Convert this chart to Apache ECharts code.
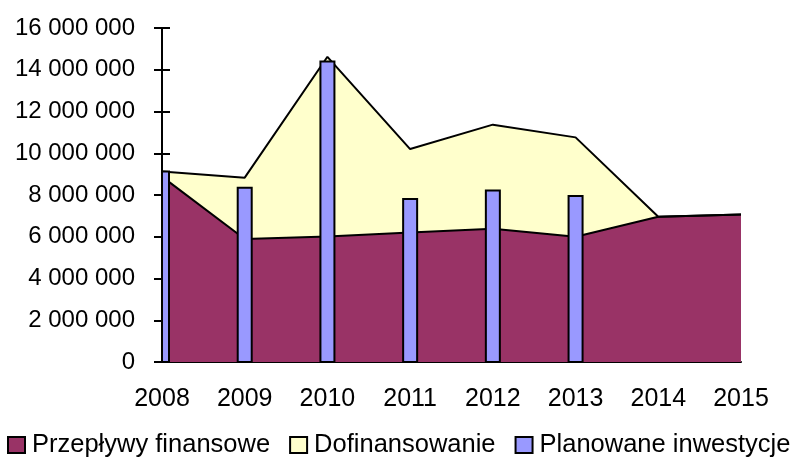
<!DOCTYPE html>
<html>
<head>
<meta charset="utf-8">
<style>
    html, body { margin: 0; padding: 0; background: #fff; }
    #chart { width: 798px; height: 457px; }
</style>
<script src="https://cdn.jsdelivr.net/npm/echarts@6/dist/echarts.min.js"></script>
</head>
<body>
<div id="chart"></div>
<script>
// dane
var years = ['2008', '2009', '2010', '2011', '2012', '2013', '2014', '2015']
var przeplywy = [8880000, 5890000, 6010000, 6200000, 6380000, 6000000, 6960000, 7070000]
var dofinansowanie = [250000, 2940000, 8610000, 4000000, 4990000, 4760000, 0, 0]
var planowane = [9120000, 8350000, 14390000, 7810000, 8220000, 7950000, null, null]
var seriesNames = ['Przepływy finansowe', 'Dofinansowanie', 'Planowane inwestycje']

var FONT = '"Liberation Sans", Arial, sans-serif'
var BAR_WIDTH = 14

function spaced(v) {
    return String(v).replace(/\B(?=(\d{3})+(?!\d))/g, ' ')
}

// słupki jako custom, żeby przyciąć pierwszy słupek do osi (bar nie przycina przy boundaryGap: false)
function renderBar(params, api) {
    var v = api.value(1)
    if (v == null || isNaN(v)) {
        return
    }
    var top = api.coord([api.value(0), v])
    var base = api.coord([api.value(0), 0])
    var cs = params.coordSys
    var shape = echarts.graphic.clipRectByRect(
        { x: top[0] - BAR_WIDTH / 2, y: top[1], width: BAR_WIDTH, height: base[1] - top[1] },
        { x: cs.x, y: cs.y, width: cs.width, height: cs.height }
    )
    if (!shape) {
        return
    }
    return {
        type: 'rect',
        shape: shape,
        style: { fill: '#9999FF', stroke: '#000', lineWidth: 2 },
    }
}

var chart = echarts.init(document.getElementById('chart'), null, { renderer: 'canvas' })

chart.setOption({
    animation: false,
    grid: {
        left: 162,
        right: 57,
        top: 28,
        bottom: 95,
        containLabel: false,
    },
    legend: {
        left: 7,
        top: 432,
        width: 800,
        padding: 0,
        icon: 'rect',
        itemWidth: 17,
        itemHeight: 16,
        itemGap: 19,
        itemStyle: {
            borderColor: '#000',
            borderWidth: 2,
        },
        textStyle: {
            fontFamily: FONT,
            fontSize: 25.5,
            color: '#000',
            padding: [0, 0, 0, 2],
        },
        data: [
            { name: seriesNames[0], itemStyle: { color: '#993366' } },
            { name: seriesNames[1], itemStyle: { color: '#FFFFCC' } },
            { name: seriesNames[2], itemStyle: { color: '#9999FF' } },
        ],
    },
    xAxis: {
        type: 'category',
        data: years,
        boundaryGap: false,
        axisLine: { lineStyle: { color: '#000', width: 2 } },
        axisTick: { show: false },
        axisLabel: {
            color: '#000',
            fontFamily: FONT,
            fontSize: 25,
            margin: 25,
        },
        splitLine: { show: false },
    },
    yAxis: [
        {
            type: 'value',
            min: 0,
            max: 16000000,
            interval: 2000000,
            axisLine: { show: true, lineStyle: { color: '#000', width: 2 } },
            axisTick: { show: true, length: 8, lineStyle: { color: '#000', width: 2 } },
            axisLabel: {
                color: '#000',
                fontFamily: FONT,
                fontSize: 24,
                margin: 27,
                formatter: spaced,
            },
            splitLine: { show: false },
            z: 5,
        },
        {
            // ta sama skala, tylko kreski do środka
            type: 'value',
            position: 'left',
            min: 0,
            max: 16000000,
            interval: 2000000,
            axisLine: { show: false },
            axisTick: { show: true, inside: true, length: 8, lineStyle: { color: '#000', width: 2 } },
            axisLabel: { show: false },
            splitLine: { show: false },
        },
    ],
    series: [
        {
            name: seriesNames[0],
            type: 'line',
            stack: 'total',
            data: przeplywy,
            symbol: 'none',
            itemStyle: { color: '#993366' },
            lineStyle: { color: '#000', width: 2 },
            areaStyle: { color: '#993366', opacity: 1 },
            z: 2,
        },
        {
            name: seriesNames[1],
            type: 'line',
            stack: 'total',
            data: dofinansowanie,
            symbol: 'none',
            itemStyle: { color: '#FFFFCC' },
            lineStyle: { color: '#000', width: 2 },
            areaStyle: { color: '#FFFFCC', opacity: 1 },
            z: 2,
        },
        {
            name: seriesNames[2],
            type: 'custom',
            renderItem: renderBar,
            encode: { x: 0, y: 1 },
            data: planowane.map(function (v, i) {
                return [i, v]
            }),
            itemStyle: { color: '#9999FF' },
            z: 3,
        },
    ],
})
</script>
</body>
</html>
